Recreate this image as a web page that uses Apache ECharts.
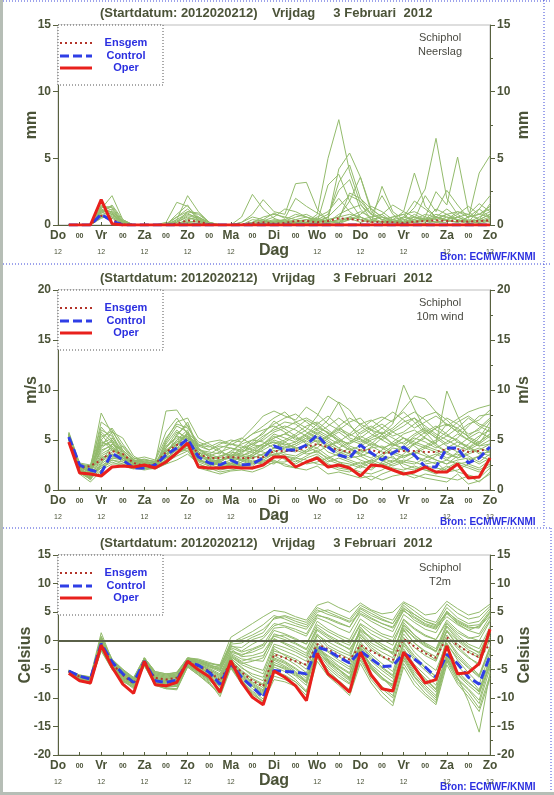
<!DOCTYPE html>
<html>
<head>
<meta charset="utf-8">
<title>Schiphol pluim 2012020212</title>
<script src="https://cdn.jsdelivr.net/npm/echarts@6/dist/echarts.min.js"></script>
<style>
  html, body { margin: 0; padding: 0; background: #fff; }
  #chart { width: 554px; height: 795px; }
</style>
</head>
<body>
<div id="chart"></div>
<script>
// forecast steps in hours after the start (2012020212), 6-hourly
const hours = [6, 12, 18, 24, 30, 36, 42, 48, 54, 60,
  66, 72, 78, 84, 90, 96, 102, 108, 114, 120,
  126, 132, 138, 144, 150, 156, 162, 168, 174, 180,
  186, 192, 198, 204, 210, 216, 222, 228, 234, 240];
// day names shown at 12 UTC, every 24 h
const dayNames = ['Do', 'Vr', 'Za', 'Zo', 'Ma', 'Di', 'Wo', 'Do', 'Vr', 'Za', 'Zo'];
const legendNames = ['Ensgem', 'Control', 'Oper'];

// ---- Neerslag (mm) ----
const precipOper = [0, 0, 0, 1.9, 0.1, 0, 0, 0, 0, 0,
  0, 0, 0, 0, 0, 0, 0, 0, 0, 0,
  0, 0, 0, 0, 0, 0, 0, 0, 0, 0,
  0, 0, 0, 0, 0, 0, 0, 0, 0, 0];
const precipControl = [0, 0, 0, 0.8, 0.3, 0, 0, 0, 0, 0,
  0, 0, 0, 0, 0, 0, 0, 0, 0, 0,
  0, 0, 0, 0, 0, 0, 0, 0, 0, 0,
  0, 0, 0, 0, 0, 0, 0, 0, 0, 0];
const precipEnsgem = [0, 0, 0, 0.7, 0.4, 0.05, 0, 0, 0, 0,
  0.1, 0.35, 0.25, 0.05, 0, 0, 0.05, 0.15, 0.2, 0.1,
  0.15, 0.3, 0.3, 0.2, 0.3, 0.5, 0.45, 0.35, 0.2, 0.25,
  0.2, 0.15, 0.25, 0.3, 0.35, 0.3, 0.3, 0.25, 0.3, 0.35];
const precipMembers = [
  [0, 0, 0, 1.2, 2.2, 0.4, 0, 0, 0, 0, 0.4, 2.2, 1.0, 0.2, 0, 0, 0.6, 2.3, 1.2, 0.5,
   0.2, 0, 0.2, 0.8, 5.0, 7.9, 4.0, 1.6, 0.4, 0.2, 0, 0.3, 0.8, 0.4, 0.6, 1.2, 0.6, 0.2, 0.4, 0.8],
  [0, 0, 0, 1.4, 1.3, 0.2, 0, 0, 0, 0.2, 1.7, 1.4, 0.6, 0.1, 0, 0, 0.2, 0.8, 1.9, 1.0,
   0.8, 3.1, 3.2, 1.2, 0.3, 0.2, 0.6, 0.4, 0.2, 0.8, 1.5, 1.0, 3.9, 1.4, 0.6, 0.4, 0.2, 0.6, 1.2, 0.6],
  [0, 0, 0, 1.0, 1.0, 0.3, 0, 0, 0, 0, 0.6, 1.2, 0.5, 0, 0, 0, 0, 0.2, 0.4, 0.9,
   0.5, 2.0, 1.4, 0.9, 0.4, 4.2, 5.4, 3.6, 1.2, 0.6, 0.2, 0.5, 1.3, 2.7, 6.5, 2.0, 0.8, 0.3, 0.2, 0.4],
  [0, 0, 0, 0.8, 0.9, 0.1, 0, 0, 0, 0, 0.2, 1.0, 0.9, 0.2, 0, 0, 0, 0, 0.2, 0.3,
   0.2, 0.4, 0.6, 0.2, 3.0, 3.8, 1.8, 0.6, 0.2, 2.9, 1.0, 0.4, 0.2, 0.6, 2.5, 1.5, 5.1, 1.0, 0.4, 0.2],
  [0, 0, 0, 1.5, 1.1, 0.2, 0, 0, 0, 0, 0, 0.5, 0.4, 0.1, 0, 0, 0, 0.4, 0.3, 0.1,
   0, 0.2, 0.4, 0.2, 0.6, 3.2, 4.5, 2.0, 0.8, 2.2, 0.8, 0.2, 0.4, 2.2, 1.0, 2.6, 1.5, 0.5, 3.9, 5.2],
  [0, 0, 0, 0.6, 0.7, 0.2, 0, 0, 0, 0, 0.8, 1.5, 0.3, 0, 0, 0, 0, 0, 0.1, 0.2,
   0.3, 0.6, 0.8, 0.4, 0.2, 0.4, 2.4, 2.0, 1.2, 0.6, 0.4, 0.2, 0.6, 0.4, 0.8, 0.6, 0.4, 0.2, 1.2, 2.2],
  [0, 0, 0, 1.1, 0.8, 0.1, 0, 0, 0, 0, 0.1, 0.3, 0.2, 0, 0, 0, 0, 0.1, 0.2, 0.3,
   0.4, 0.2, 0.1, 0.2, 0.4, 0.6, 1.8, 3.6, 1.0, 0.4, 0.2, 0.1, 0.3, 0.5, 0.2, 0.4, 1.0, 0.8, 0.4, 1.6],
  [0, 0, 0, 0.9, 1.2, 0.2, 0, 0, 0, 0, 0, 0.2, 0.1, 0, 0, 0, 0, 0, 0, 0.1,
   0.2, 0.3, 0.4, 0.3, 0.2, 0.8, 1.2, 1.5, 0.8, 0.4, 0.6, 0.8, 0.2, 0.1, 0.3, 0.6, 0.4, 0.2, 0.6, 1.0],
  [0, 0, 0, 1.3, 1.4, 0.3, 0, 0, 0, 0, 0.3, 0.8, 0.6, 0.1, 0, 0, 0, 0, 0, 0,
   0.1, 0.2, 0.2, 0.5, 0.3, 0.1, 0.4, 0.6, 0.2, 0.3, 0.2, 0.4, 0.6, 0.3, 0.5, 0.8, 0.3, 0.1, 0.2, 0.5],
  [0, 0, 0, 0.7, 0.6, 0.1, 0, 0, 0, 0, 0, 0.1, 0.1, 0, 0, 0, 0, 0, 0.2, 0.4,
   0.3, 0.1, 0.2, 0.4, 0.2, 0.3, 0.5, 0.2, 0.4, 0.6, 0.3, 0.2, 0.4, 0.2, 0.6, 0.3, 0.2, 0.4, 0.3, 0.6],
  [0, 0, 0, 1.0, 0.6, 0.2, 0, 0, 0, 0, 0.2, 0.6, 0.3, 0, 0, 0, 0, 0, 0.1, 0.1,
   0, 0.1, 0.2, 0.6, 1.0, 2.0, 1.0, 0.4, 0.6, 0.8, 0.2, 0.1, 0.2, 0.4, 0.2, 0.2, 0.6, 0.3, 0.1, 0.3],
  [0, 0, 0, 0.5, 0.8, 0.3, 0, 0, 0, 0, 0, 0.2, 0.3, 0, 0, 0, 0, 0, 0, 0,
   0.1, 0.1, 0.1, 0.2, 0.4, 0.6, 0.8, 0.6, 0.3, 0.2, 0.4, 1.0, 0.6, 0.3, 0.2, 0.4, 0.2, 0.6, 0.8, 1.2],
  [0, 0, 0, 1.2, 0.9, 0.2, 0, 0, 0, 0, 0.4, 0.9, 0.4, 0, 0, 0, 0.2, 0.6, 0.4, 0.2,
   0.4, 0.8, 0.6, 0.3, 0.6, 1.4, 2.2, 1.8, 0.8, 0.4, 0.6, 0.8, 1.0, 0.6, 0.4, 0.8, 1.0, 0.6, 0.8, 1.4],
  [0, 0, 0, 0.9, 1.5, 0.4, 0, 0, 0, 0, 0.2, 0.7, 0.5, 0.1, 0, 0, 0, 0.2, 0.6, 0.8,
   0.6, 0.4, 0.2, 0.1, 0.2, 0.4, 0.6, 1.0, 0.6, 0.2, 0.2, 0.6, 1.8, 1.2, 0.6, 0.4, 0.8, 1.4, 0.8, 0.6],
  [0, 0, 0, 1.1, 1.0, 0.2, 0, 0, 0, 0, 0, 0.4, 0.6, 0.2, 0, 0, 0, 0, 0.1, 0.2,
   0.2, 0.2, 0.4, 0.2, 0.1, 0.2, 0.4, 0.8, 1.4, 1.0, 0.4, 0.2, 0.2, 0.4, 1.2, 0.8, 0.4, 0.2, 0.4, 0.8],
  [0, 0, 0, 0.6, 0.5, 0.1, 0, 0, 0, 0.1, 0.6, 1.0, 0.8, 0.2, 0, 0, 0, 0.1, 0.3, 0.6,
   1.2, 1.0, 0.6, 0.4, 0.8, 2.6, 3.4, 1.2, 0.4, 0.2, 0.4, 0.6, 0.4, 0.8, 0.6, 0.4, 0.6, 0.8, 1.6, 1.0]
];

// ---- 10m wind (m/s) ----
const windOper = [4.8, 1.7, 1.6, 1.4, 2.3, 2.4, 2.3, 2.5, 2.2, 2.8,
  3.7, 4.7, 2.3, 2.2, 2.2, 2.3, 2.2, 2.2, 2.5, 3.3,
  3.3, 2.3, 2.8, 3.2, 2.3, 2.5, 2.2, 1.4, 2.5, 2.4,
  2.0, 1.6, 1.8, 2.3, 1.8, 1.8, 2.6, 1.2, 1.3, 3.2];
const windControl = [5.3, 2.5, 2.0, 1.7, 3.7, 3.0, 2.2, 2.2, 2.5, 3.5,
  4.2, 5.1, 3.3, 2.7, 2.5, 3.0, 2.5, 2.6, 3.2, 4.4,
  4.0, 4.0, 4.5, 5.5, 4.3, 3.5, 3.2, 4.5, 3.7, 3.0,
  3.7, 4.3, 3.5, 2.3, 2.3, 4.2, 4.2, 2.7, 3.2, 4.3];
const windEnsgem = [5.2, 2.2, 2.4, 3.0, 3.9, 3.6, 2.7, 2.4, 2.6, 3.8,
  4.5, 5.0, 3.6, 3.2, 3.2, 3.3, 3.2, 3.2, 3.3, 3.9,
  3.9, 3.9, 4.3, 4.6, 4.3, 4.0, 3.8, 4.0, 4.0, 3.7,
  3.8, 3.9, 3.9, 3.8, 3.8, 4.1, 4.1, 3.8, 3.9, 4.2];
const windMembers = [
  [5.6, 2.4, 2.2, 7.7, 5.6, 3.6, 2.9, 3.1, 2.8, 7.9, 8.0, 6.4, 4.5, 4.3, 4.8, 4.5, 5.1, 6.2, 7.4, 7.9,
   7.4, 7.0, 8.3, 7.6, 6.6, 6.0, 5.4, 6.1, 6.9, 7.3, 6.8, 8.1, 9.4, 9.1, 7.8, 6.4, 7.1, 7.8, 8.2, 8.5],
  [5.4, 2.1, 1.6, 5.3, 5.9, 4.3, 3.0, 2.7, 2.5, 3.3, 5.6, 6.5, 4.1, 3.6, 3.2, 3.9, 4.6, 5.0, 5.6, 6.9,
   6.1, 5.4, 6.0, 7.4, 9.4, 8.7, 6.6, 5.1, 4.6, 5.6, 6.6, 10.5, 8.1, 6.0, 5.2, 6.6, 6.2, 5.3, 4.8, 5.6],
  [5.2, 2.0, 1.0, 2.6, 4.6, 3.9, 2.5, 2.4, 2.3, 4.8, 6.4, 5.8, 3.8, 3.0, 2.8, 2.6, 3.0, 3.6, 4.3, 5.2,
   5.6, 6.2, 7.0, 6.4, 5.7, 4.8, 4.0, 3.6, 4.3, 5.2, 6.0, 6.8, 7.2, 5.8, 4.6, 9.9, 7.4, 5.2, 4.6, 6.3],
  [5.0, 1.6, 0.8, 1.9, 3.2, 3.0, 2.3, 2.2, 2.1, 2.6, 3.8, 4.2, 2.6, 2.2, 1.8, 2.0, 2.2, 2.1, 2.6, 3.0,
   2.4, 2.2, 2.8, 3.4, 2.6, 2.2, 2.0, 1.6, 1.0, 1.6, 2.0, 1.8, 1.5, 1.2, 1.0, 0.8, 1.6, 0.6, 0.9, 1.6],
  [5.8, 2.7, 2.5, 6.3, 5.0, 3.2, 3.1, 3.3, 3.0, 5.8, 7.2, 5.6, 4.0, 3.8, 3.6, 4.8, 5.2, 4.5, 4.4, 4.8,
   4.5, 4.8, 5.6, 6.2, 5.8, 5.0, 4.6, 5.8, 6.4, 5.6, 4.6, 4.2, 5.0, 5.8, 6.4, 5.6, 4.8, 4.2, 5.2, 6.8],
  [5.3, 2.3, 1.8, 3.6, 4.2, 3.5, 2.7, 2.6, 2.6, 3.9, 4.6, 5.0, 3.4, 3.2, 3.4, 3.6, 3.4, 3.2, 3.6, 4.2,
   4.0, 3.8, 4.6, 5.2, 4.6, 4.0, 3.6, 3.8, 4.2, 4.4, 3.8, 3.4, 3.6, 4.2, 3.8, 3.2, 3.6, 3.0, 3.4, 4.0],
  [5.1, 1.8, 1.2, 2.8, 3.6, 2.8, 2.2, 2.1, 2.4, 3.0, 4.2, 4.6, 2.9, 2.6, 2.5, 2.8, 2.4, 2.6, 3.0, 3.6,
   3.2, 2.8, 3.4, 4.0, 3.0, 2.6, 2.4, 2.8, 2.2, 2.6, 3.0, 2.6, 2.2, 2.0, 1.8, 2.4, 1.8, 1.5, 1.2, 2.2],
  [5.5, 2.5, 2.0, 4.8, 4.4, 3.4, 2.8, 2.9, 2.7, 4.4, 5.2, 5.4, 3.6, 2.8, 3.0, 3.2, 3.8, 4.4, 5.2, 6.2,
   6.8, 6.6, 5.8, 5.2, 4.4, 4.8, 5.6, 6.6, 7.0, 6.2, 5.4, 5.8, 6.6, 7.4, 7.8, 7.0, 6.0, 5.4, 6.2, 7.2],
  [5.2, 2.2, 1.4, 3.0, 3.8, 4.4, 3.2, 2.8, 2.4, 3.4, 4.4, 5.6, 4.4, 4.0, 4.4, 4.2, 4.0, 3.8, 3.4, 3.8,
   4.2, 4.6, 5.2, 4.8, 3.8, 3.4, 3.0, 2.6, 3.0, 3.6, 4.4, 5.2, 4.4, 3.6, 3.0, 2.6, 3.4, 4.2, 3.8, 3.4],
  [5.4, 2.0, 1.7, 4.2, 5.0, 3.8, 2.6, 2.3, 2.2, 3.6, 5.0, 6.0, 3.2, 2.4, 2.0, 2.2, 2.8, 3.4, 4.0, 4.6,
   5.0, 5.6, 6.4, 6.8, 6.0, 5.2, 4.4, 4.0, 3.6, 3.2, 2.8, 3.6, 4.6, 5.4, 6.2, 6.6, 5.8, 5.0, 4.4, 5.0],
  [5.0, 1.9, 1.3, 2.2, 2.8, 2.4, 2.1, 2.3, 2.5, 2.8, 3.4, 3.9, 2.4, 2.0, 2.2, 2.4, 2.6, 3.0, 2.8, 2.6,
   3.4, 3.0, 2.6, 2.8, 3.2, 2.8, 2.2, 1.8, 1.6, 2.0, 2.6, 3.0, 2.8, 2.4, 2.2, 2.0, 2.6, 2.2, 1.8, 2.4],
  [5.6, 2.6, 2.3, 5.8, 4.8, 3.2, 2.9, 3.0, 2.9, 5.2, 6.6, 6.2, 4.8, 4.4, 3.8, 3.4, 3.6, 4.8, 5.8, 6.6,
   7.2, 7.6, 6.8, 6.0, 5.4, 6.0, 6.8, 7.2, 6.0, 5.0, 4.4, 4.8, 5.6, 6.2, 5.4, 4.6, 5.2, 6.4, 7.4, 7.6],
  [5.3, 2.2, 1.9, 3.3, 3.4, 3.0, 2.4, 2.5, 2.6, 3.2, 4.0, 4.8, 3.0, 2.7, 2.6, 3.0, 3.2, 2.8, 2.6, 3.2,
   3.6, 3.4, 4.0, 4.6, 4.2, 3.6, 3.2, 3.4, 3.8, 3.0, 2.4, 2.8, 3.4, 3.0, 2.6, 3.0, 3.8, 3.4, 2.8, 3.6],
  [5.7, 2.3, 2.1, 6.8, 6.0, 4.0, 3.0, 2.8, 2.6, 4.2, 5.8, 5.2, 3.4, 3.6, 4.2, 4.6, 4.4, 4.0, 4.6, 5.6,
   5.2, 4.8, 5.4, 6.0, 7.0, 8.8, 8.0, 6.4, 5.6, 5.0, 5.8, 6.4, 7.2, 6.4, 5.6, 5.0, 4.4, 4.0, 4.6, 5.4],
  [5.1, 1.7, 1.1, 2.4, 3.0, 2.6, 2.2, 2.0, 2.2, 2.7, 3.6, 4.4, 2.2, 1.9, 1.6, 1.9, 2.0, 1.8, 2.2, 2.8,
   2.6, 2.2, 2.0, 2.4, 1.6, 1.8, 1.5, 1.2, 1.4, 1.0, 1.4, 1.6, 1.2, 1.6, 1.4, 1.2, 1.0, 1.4, 0.8, 1.8],
  [5.4, 2.4, 1.8, 4.0, 4.4, 3.2, 2.6, 2.4, 2.3, 3.8, 5.0, 5.4, 4.0, 3.4, 3.0, 3.4, 4.2, 5.0, 4.8, 4.2,
   4.8, 5.4, 4.6, 4.2, 5.2, 5.8, 5.0, 4.6, 5.2, 5.8, 5.2, 4.6, 5.2, 4.8, 4.2, 4.8, 5.6, 5.0, 4.4, 4.6],
  [5.2, 2.1, 1.5, 3.4, 4.0, 3.6, 2.5, 2.2, 2.4, 4.6, 6.0, 5.0, 3.8, 3.0, 2.4, 2.6, 3.4, 4.0, 3.8, 3.4,
   3.8, 4.4, 5.0, 5.6, 5.0, 4.2, 3.6, 3.0, 2.6, 3.4, 4.2, 4.0, 3.4, 2.8, 3.4, 4.2, 4.8, 4.4, 3.6, 3.8],
  [5.5, 2.3, 1.9, 4.4, 4.8, 3.0, 2.7, 2.7, 2.8, 4.0, 4.8, 5.2, 3.2, 3.0, 3.4, 3.8, 3.6, 3.4, 4.2, 5.0,
   4.6, 4.2, 4.4, 5.0, 4.4, 5.0, 4.2, 3.6, 3.2, 4.0, 4.8, 5.6, 6.0, 5.2, 4.4, 3.8, 3.2, 3.6, 4.0, 4.6],
  [5.0, 1.8, 1.2, 2.0, 2.6, 2.6, 2.3, 2.4, 2.2, 3.0, 3.8, 4.0, 2.8, 2.4, 2.8, 2.6, 2.4, 2.4, 3.2, 4.0,
   3.0, 2.6, 3.2, 3.6, 2.8, 3.2, 2.8, 2.4, 2.0, 2.8, 3.4, 2.2, 2.0, 2.6, 2.8, 1.8, 2.0, 2.6, 2.2, 3.0],
  [5.6, 2.5, 2.3, 5.0, 6.2, 4.6, 3.2, 3.0, 2.8, 3.6, 4.4, 5.8, 4.6, 4.0, 4.6, 5.0, 4.8, 5.6, 6.4, 7.2,
   7.8, 6.8, 6.2, 5.6, 6.4, 7.2, 6.4, 5.6, 6.2, 7.0, 7.8, 7.0, 6.2, 6.8, 7.4, 6.6, 5.8, 6.6, 7.0, 8.0],
  [5.3, 2.0, 1.4, 6.0, 5.4, 3.4, 2.6, 2.6, 2.5, 4.2, 5.4, 6.8, 4.2, 3.4, 3.0, 3.6, 4.8, 5.6, 6.0, 6.4,
   5.8, 5.0, 5.6, 6.6, 7.4, 6.4, 5.2, 4.8, 5.4, 6.2, 7.0, 7.8, 6.8, 5.6, 6.2, 7.2, 6.6, 5.6, 6.0, 7.0],
  [5.5, 2.6, 2.4, 4.6, 5.2, 4.0, 2.9, 2.5, 2.4, 5.0, 6.8, 7.2, 5.2, 4.6, 4.0, 3.2, 3.4, 3.8, 4.6, 5.4,
   4.8, 4.2, 3.8, 4.6, 5.4, 6.2, 5.6, 5.0, 4.4, 3.8, 3.6, 4.4, 5.4, 6.0, 5.2, 4.4, 3.8, 4.6, 5.4, 6.0],
  [5.1, 2.0, 1.6, 2.4, 3.2, 3.2, 2.4, 2.3, 2.6, 3.2, 3.6, 4.2, 3.0, 2.8, 3.0, 3.2, 3.0, 2.6, 2.8, 3.4,
   3.4, 3.2, 3.8, 4.2, 3.4, 2.8, 2.6, 2.2, 2.8, 3.4, 3.2, 2.8, 2.6, 3.2, 3.6, 3.0, 2.6, 2.8, 3.4, 3.0],
  [5.4, 2.4, 2.0, 3.8, 4.6, 4.0, 3.0, 2.6, 2.4, 3.4, 4.6, 5.6, 3.8, 3.4, 3.8, 4.2, 3.8, 4.2, 4.6, 5.2,
   5.6, 5.2, 4.8, 5.4, 4.8, 4.2, 4.8, 5.4, 4.8, 4.2, 4.6, 5.2, 4.6, 4.2, 4.8, 5.4, 5.0, 4.2, 4.8, 5.6],
  [5.6, 2.2, 1.8, 5.6, 4.2, 3.0, 2.5, 2.4, 2.3, 4.2, 5.4, 5.0, 3.0, 2.6, 2.8, 3.4, 3.0, 3.6, 4.4, 4.8,
   4.2, 4.6, 5.2, 5.8, 5.2, 4.6, 4.0, 4.4, 5.0, 5.4, 4.6, 4.0, 4.6, 5.2, 4.6, 3.8, 4.4, 5.2, 5.8, 5.2],
  [5.2, 1.9, 1.3, 3.2, 3.6, 3.4, 2.6, 2.5, 2.2, 3.0, 3.8, 4.6, 3.4, 3.0, 2.6, 2.4, 2.8, 3.2, 3.6, 4.2,
   4.4, 4.0, 3.6, 3.8, 4.4, 3.8, 3.4, 4.0, 4.6, 4.2, 3.6, 3.2, 3.8, 4.4, 4.0, 3.6, 3.2, 3.8, 4.2, 3.8],
  [5.7, 2.5, 2.2, 4.4, 5.8, 5.2, 3.4, 2.8, 2.7, 3.4, 4.2, 5.2, 4.4, 4.8, 5.0, 4.6, 4.2, 4.6, 5.4, 6.0,
   6.4, 6.0, 5.4, 4.8, 5.4, 6.4, 7.2, 6.6, 6.0, 5.6, 6.2, 7.2, 7.8, 7.0, 6.0, 5.4, 6.2, 7.2, 6.4, 5.8],
  [5.3, 2.3, 1.7, 2.2, 3.0, 2.8, 2.4, 2.2, 2.3, 2.6, 3.0, 3.6, 2.6, 2.2, 2.4, 2.2, 2.4, 2.8, 3.0, 2.8,
   2.8, 3.2, 3.0, 2.6, 2.4, 2.0, 1.8, 2.4, 3.0, 2.6, 2.2, 2.0, 2.4, 2.0, 1.6, 2.2, 2.8, 2.4, 2.0, 2.6],
  [5.4, 2.2, 1.9, 5.0, 4.0, 3.4, 2.8, 2.6, 2.5, 3.8, 4.8, 5.6, 4.2, 3.2, 2.8, 3.4, 4.0, 4.6, 5.0, 5.8,
   6.2, 6.8, 7.2, 6.6, 5.6, 5.0, 4.6, 5.2, 6.0, 6.6, 5.8, 5.2, 4.8, 4.4, 5.0, 5.8, 6.8, 7.4, 6.6, 6.2],
  [5.0, 1.7, 1.1, 2.6, 3.4, 3.2, 2.6, 2.4, 2.4, 3.2, 4.0, 4.4, 3.0, 2.6, 2.2, 2.6, 3.0, 3.4, 3.2, 3.6,
   3.8, 4.2, 4.4, 3.8, 3.2, 3.6, 4.2, 3.4, 2.8, 2.4, 2.8, 3.4, 3.8, 3.4, 3.0, 2.6, 3.0, 3.2, 2.6, 3.2]
];

// ---- T2m (Celsius) ----
const tempOper = [-5.7, -7.0, -7.4, -0.8, -4.6, -7.6, -9.2, -3.6, -7.7, -7.9,
  -7.3, -3.6, -5.1, -6.3, -9.0, -3.5, -7.3, -9.9, -11.2, -5.3,
  -6.4, -7.9, -10.5, -2.2, -5.8, -7.3, -9.0, -2.0, -6.0, -8.4,
  -8.8, -2.0, -4.6, -7.4, -6.8, -0.9, -5.8, -5.6, -4.0, 2.0];
const tempControl = [-5.3, -6.2, -6.7, -0.5, -3.7, -5.8, -7.3, -3.6, -7.0, -7.3,
  -6.9, -3.7, -4.3, -5.5, -7.6, -4.0, -6.4, -8.1, -9.9, -5.2,
  -5.4, -5.5, -5.8, -1.1, -1.7, -2.9, -3.9, -1.8, -3.2, -4.5,
  -4.4, -2.2, -3.2, -4.6, -6.4, -2.4, -4.0, -6.4, -7.6, -2.6];
const tempEnsgem = [-5.3, -6.3, -6.6, -0.8, -4.0, -6.0, -7.5, -4.0, -6.5, -6.8,
  -6.5, -3.8, -4.5, -5.3, -7.0, -3.8, -5.5, -7.0, -8.0, -2.4,
  -3.0, -3.6, -4.2, -0.6, -1.5, -2.6, -3.3, -0.8, -1.8, -2.8,
  -3.4, 0.3, -1.0, -2.2, -3.0, 0.6, -0.8, -2.0, -2.9, -0.6];
const tempMembers = [
  [-5.2, -6.0, -6.3, 1.4, -3.4, -5.0, -6.6, -3.2, -5.6, -6.0, -5.5, -3.0, -3.4, -4.0, -4.2, 0.6, 1.8, 3.0, 4.2, 5.3,
   5.0, 4.2, 3.6, 6.2, 6.8, 5.8, 5.0, 6.6, 5.4, 4.7, 5.0, 6.8, 5.8, 4.5, 4.8, 6.9, 5.6, 4.5, 5.0, 6.4],
  [-5.3, -6.2, -6.6, 0.2, -3.8, -5.6, -7.0, -3.4, -6.0, -6.4, -6.0, -3.3, -3.8, -4.6, -5.0, -0.8, -1.8, -0.6, 0.4, 2.6,
   3.2, 2.6, 2.0, 4.6, 3.8, 3.0, 2.4, 5.6, 4.4, 3.6, 3.0, 6.2, 4.6, 3.4, 2.8, 5.8, 4.0, 3.0, 3.4, 5.6],
  [-5.6, -6.8, -7.4, -1.6, -4.8, -7.0, -8.0, -4.2, -7.6, -8.2, -8.4, -4.4, -5.8, -7.2, -9.8, -4.8, -7.6, -9.2, -10.8, -6.8,
   -7.2, -8.0, -10.2, -3.6, -6.2, -7.8, -9.6, -4.0, -7.4, -9.8, -11.4, -4.6, -7.8, -9.6, -11.2, -4.2, -7.6, -9.8, -12.4, -6.6],
  [-5.5, -6.6, -7.0, -1.0, -4.4, -6.6, -7.6, -3.8, -7.0, -7.6, -7.4, -3.9, -5.0, -6.2, -7.8, -3.8, -6.4, -8.0, -9.4, -4.6,
   -5.4, -6.8, -8.8, -2.8, -4.8, -6.4, -7.6, -2.4, -5.0, -6.8, -7.6, -1.8, -4.6, -6.6, -8.4, -2.2, -6.4, -10.6, -16.0, -5.6],
  [-5.4, -6.4, -6.8, -0.4, -3.8, -6.0, -7.2, -3.4, -6.6, -7.0, -6.6, -3.6, -4.2, -5.2, -6.4, -2.6, -3.8, -4.6, -5.2, -0.6,
   -1.2, -2.0, -3.0, 1.2, -0.8, -1.8, -2.6, 1.6, -0.4, -1.4, -2.0, 2.6, 0.4, -1.0, -1.8, 2.4, 0.2, -1.2, -2.0, 1.0],
  [-5.3, -6.3, -6.7, 0.0, -3.6, -5.8, -7.0, -3.4, -6.4, -6.8, -6.4, -3.4, -4.0, -4.8, -5.8, -1.8, -2.4, -2.0, -1.2, 1.8,
   1.2, 0.4, -0.6, 3.4, 2.0, 1.0, 0.2, 3.8, 2.4, 1.2, 0.6, 4.6, 3.2, 2.0, 1.4, 4.8, 3.0, 1.8, 1.2, 4.2],
  [-5.6, -6.6, -7.2, -1.2, -4.4, -6.4, -7.8, -4.0, -7.2, -7.8, -7.6, -4.0, -5.2, -6.6, -8.4, -4.2, -6.8, -8.4, -9.6, -3.8,
   -4.6, -5.8, -7.4, -1.6, -4.0, -5.6, -7.0, -1.2, -4.8, -6.6, -8.0, -2.6, -5.4, -7.2, -9.0, -3.2, -6.0, -7.8, -9.4, -3.8],
  [-5.4, -6.5, -6.9, -0.8, -4.2, -6.2, -7.4, -3.6, -6.8, -7.2, -7.0, -3.8, -4.6, -5.6, -6.8, -3.0, -4.8, -5.8, -6.4, -1.8,
   -2.4, -3.2, -4.4, 0.2, -1.8, -2.8, -3.8, 0.6, -1.6, -2.8, -3.8, 1.2, -1.2, -2.6, -3.6, 1.0, -1.4, -3.0, -4.0, 0.2],
  [-5.2, -6.1, -6.5, 0.6, -3.6, -5.4, -6.8, -3.2, -5.8, -6.2, -5.8, -3.2, -3.6, -4.4, -4.6, -0.2, 0.2, 1.0, 2.0, 3.8,
   4.2, 3.4, 2.8, 5.4, 4.6, 4.0, 3.2, 4.8, 3.8, 3.0, 2.2, 5.2, 4.0, 2.8, 2.2, 4.2, 2.8, 1.8, 2.6, 4.8],
  [-5.5, -6.7, -7.3, -1.4, -4.6, -6.8, -7.8, -4.0, -7.4, -8.0, -8.0, -4.2, -5.4, -6.8, -8.8, -4.4, -7.0, -8.8, -10.2, -5.6,
   -6.2, -7.2, -9.0, -2.4, -5.6, -7.0, -8.6, -3.0, -6.4, -8.4, -10.0, -3.4, -6.4, -8.6, -10.4, -2.8, -6.8, -8.6, -11.0, -4.8],
  [-5.4, -6.4, -6.8, -0.6, -4.0, -6.0, -7.2, -3.6, -6.6, -7.0, -6.8, -3.6, -4.4, -5.4, -6.6, -2.8, -4.2, -5.0, -5.8, -1.0,
   -1.8, -2.6, -3.6, 0.8, -1.2, -2.2, -3.2, 2.4, 0.2, -1.0, -2.4, 3.2, 1.0, -0.4, -1.4, 3.0, 1.0, -0.6, -1.4, 2.4],
  [-5.6, -6.8, -7.2, -1.0, -4.6, -6.6, -7.8, -4.2, -7.4, -7.8, -7.4, -4.0, -5.4, -6.6, -8.0, -3.6, -5.6, -7.2, -8.2, -2.6,
   -3.6, -4.8, -6.2, -0.8, -3.2, -4.6, -5.8, -0.6, -3.2, -4.8, -6.2, -0.4, -3.0, -4.8, -6.2, 0.2, -2.6, -4.6, -6.2, -1.2],
  [-5.3, -6.2, -6.6, 0.4, -3.4, -5.4, -6.8, -3.2, -6.0, -6.4, -6.2, -3.4, -3.8, -4.6, -5.4, -1.4, -2.8, -2.6, -2.0, 0.8,
   0.2, -0.6, -1.6, 2.4, 1.0, 0.0, -0.8, 2.8, 1.2, 0.2, -0.8, 3.8, 2.2, 1.0, 0.2, 3.6, 1.8, 0.6, 0.0, 3.4],
  [-5.5, -6.6, -7.0, -0.8, -4.2, -6.4, -7.6, -3.8, -7.0, -7.4, -7.2, -3.8, -4.8, -6.0, -7.4, -3.4, -5.2, -6.6, -7.6, -2.2,
   -3.0, -4.2, -5.6, -1.2, -2.6, -3.8, -5.0, -0.2, -2.4, -4.0, -5.4, 0.6, -2.0, -3.8, -5.2, -0.4, -3.4, -5.6, -7.6, -2.2],
  [-5.4, -6.3, -6.7, -0.2, -3.8, -5.8, -7.0, -3.4, -6.4, -6.8, -6.4, -3.5, -4.2, -5.0, -6.0, -2.2, -3.2, -3.4, -3.6, 0.2,
   -0.4, -1.2, -2.2, 1.8, 0.4, -0.6, -1.4, 1.2, -0.8, -2.0, -3.0, 1.8, -0.4, -1.8, -2.8, 1.6, -0.6, -2.0, -3.0, 0.6],
  [-5.6, -6.9, -7.4, -1.8, -5.0, -7.2, -8.0, -4.4, -7.8, -8.4, -8.6, -4.6, -6.0, -7.6, -9.4, -4.6, -7.2, -9.0, -10.6, -6.2,
   -6.8, -7.6, -9.6, -3.0, -5.8, -7.4, -9.2, -3.4, -6.8, -9.0, -10.8, -4.0, -7.0, -9.2, -10.8, -3.6, -7.2, -9.2, -11.8, -6.0],
  [-5.3, -6.1, -6.4, 0.8, -3.2, -5.2, -6.6, -3.0, -5.8, -6.2, -6.0, -3.2, -3.6, -4.2, -4.8, -0.4, 0.6, 1.6, 2.8, 4.4,
   3.8, 3.0, 2.4, 5.0, 5.4, 4.6, 3.8, 6.2, 5.2, 4.2, 3.6, 6.6, 5.2, 3.8, 3.2, 6.4, 4.8, 3.8, 4.2, 6.0],
  [-5.4, -6.5, -7.0, -0.6, -4.2, -6.2, -7.4, -3.8, -6.8, -7.2, -7.0, -3.8, -4.6, -5.8, -7.0, -3.2, -4.6, -6.2, -7.0, -1.4,
   -2.6, -3.6, -5.0, -0.4, -2.0, -3.4, -4.6, 1.0, -1.2, -2.6, -4.0, 2.0, -0.4, -2.0, -3.4, 1.8, -1.0, -2.8, -4.4, 1.4],
  [-5.5, -6.6, -7.1, -1.2, -4.4, -6.4, -7.6, -3.8, -7.2, -7.6, -7.6, -4.0, -5.0, -6.4, -8.0, -3.8, -6.0, -7.6, -8.8, -3.2,
   -4.0, -5.4, -7.0, -1.8, -3.8, -5.2, -6.8, -1.6, -4.2, -5.8, -7.2, -1.4, -4.2, -6.0, -7.8, -1.2, -4.4, -6.4, -8.6, -3.0],
  [-5.2, -6.2, -6.6, 0.2, -3.6, -5.6, -6.8, -3.2, -6.2, -6.6, -6.2, -3.2, -3.8, -4.4, -5.2, -1.2, -2.0, -1.4, -0.6, 2.2,
   2.4, 1.6, 0.8, 4.0, 3.2, 2.2, 1.4, 4.6, 3.4, 2.4, 1.6, 5.4, 3.6, 2.6, 2.0, 5.2, 3.4, 2.4, 2.2, 5.0],
  [-5.4, -6.2, -6.6, -0.2, -3.6, -5.4, -6.8, -3.0, -5.4, -5.8, -5.6, -3.2, -3.4, -4.2, -5.0, -2.0, -2.6, -1.6, -0.8, 0.8,
   1.0, 0.2, -0.6, 2.8, 1.6, 0.6, -0.4, 3.0, 1.8, 0.8, 0.0, 3.6, 2.0, 0.8, 0.2, 3.2, 1.4, 0.4, 0.8, 3.6],
  [-5.6, -6.9, -7.6, -1.4, -4.8, -6.8, -8.2, -4.2, -7.6, -8.0, -7.8, -4.2, -5.6, -7.0, -8.6, -4.4, -6.6, -8.0, -9.2, -4.2,
   -5.0, -6.2, -7.8, -2.0, -4.4, -6.0, -7.4, -1.8, -4.6, -6.4, -7.8, -2.2, -5.0, -6.8, -8.6, -2.6, -5.4, -7.2, -9.0, -4.4],
  [-5.3, -6.4, -6.9, -0.6, -3.8, -6.2, -7.6, -3.6, -6.8, -7.4, -7.2, -3.6, -4.4, -5.8, -7.2, -2.8, -4.0, -3.6, -3.0, 1.2,
   0.6, -0.4, -1.4, 2.0, 0.8, -0.4, -1.6, 1.8, 0.4, -1.0, -2.2, 2.8, 1.0, -0.6, -1.8, 2.6, 0.6, -1.0, -2.2, 2.0],
  [-5.5, -6.5, -6.8, -1.0, -4.2, -6.2, -7.4, -3.8, -6.6, -7.0, -6.8, -3.8, -4.6, -5.6, -7.0, -3.4, -5.4, -6.8, -7.8, -3.0,
   -3.8, -5.0, -6.6, -1.4, -3.6, -5.0, -6.4, -1.0, -3.6, -5.2, -6.6, -0.8, -3.4, -5.2, -6.8, -0.6, -3.0, -4.8, -6.4, -1.6],
  [-5.2, -6.0, -6.4, 0.4, -3.2, -5.0, -6.4, -3.0, -5.4, -5.8, -5.6, -3.0, -3.2, -3.8, -4.4, -1.0, -1.2, 0.2, 0.8, 3.0,
   2.6, 2.0, 1.2, 4.4, 4.0, 3.2, 2.4, 5.2, 4.0, 3.0, 2.4, 5.6, 4.6, 3.4, 2.6, 5.0, 3.6, 2.6, 2.8, 5.2],
  [-5.6, -6.7, -7.2, -1.2, -4.6, -6.8, -8.2, -4.2, -7.4, -8.0, -8.0, -4.4, -5.6, -6.8, -8.8, -4.0, -6.2, -7.8, -9.0, -3.4,
   -4.4, -5.6, -7.2, -1.0, -3.4, -5.0, -6.6, -1.4, -4.4, -6.4, -8.4, -2.8, -5.8, -7.8, -9.6, -3.0, -5.8, -7.4, -8.8, -3.4],
  [-5.4, -6.3, -6.7, -0.4, -3.8, -5.8, -7.2, -3.4, -6.2, -6.6, -6.4, -3.4, -4.0, -5.0, -6.2, -2.4, -3.6, -3.0, -2.6, 0.4,
   -0.6, -1.6, -2.6, 1.0, -0.2, -1.2, -2.2, 2.0, 0.6, -0.6, -1.6, 2.2, 0.6, -0.8, -2.0, 1.8, 0.0, -1.6, -2.6, 1.4],
  [-5.5, -6.8, -7.4, -1.6, -5.0, -7.0, -8.4, -4.4, -7.8, -8.4, -8.4, -4.6, -6.0, -7.4, -9.2, -4.6, -7.4, -9.4, -10.6, -5.4,
   -6.0, -7.2, -9.0, -2.6, -5.2, -7.0, -8.8, -2.6, -5.8, -8.0, -9.6, -3.0, -6.2, -8.2, -10.0, -3.4, -6.6, -8.4, -10.4, -4.0],
  [-5.3, -6.1, -6.5, 0.6, -3.4, -5.2, -6.6, -3.0, -5.6, -6.0, -5.8, -3.0, -3.4, -4.0, -4.4, -0.6, -0.4, 0.6, 1.4, 4.0,
   4.4, 3.8, 3.2, 5.8, 5.0, 4.2, 3.4, 5.8, 4.8, 3.8, 3.0, 5.8, 4.2, 3.0, 2.4, 4.8, 3.2, 2.2, 2.4, 4.4],
  [-5.4, -6.6, -7.0, -0.8, -4.4, -6.4, -7.8, -4.0, -7.0, -7.4, -7.2, -3.8, -4.8, -6.2, -7.8, -3.6, -5.8, -7.4, -8.6, -4.2,
   -4.8, -6.0, -7.2, -1.4, -2.8, -4.4, -5.6, -0.6, -2.8, -4.6, -6.0, -0.2, -2.6, -4.6, -6.4, 0.4, -2.2, -4.2, -6.0, -1.0]
];

const FONT = "'Liberation Sans', Arial, Helvetica, sans-serif";
const TXT = '#4b5338';     // olive grey text
const AX = '#58613f';      // axis lines
const GREEN = '#93bb6c';   // ensemble members
const RED = '#e8201c';
const BLUE = '#2f3ee6';
const DOTRED = '#b3342a';
const LBLUE = '#2b2fe0';
const TITLE = '(Startdatum: 2012020212)    Vrijdag     3 Februari  2012';

const panels = [
  { y0: 0, min: 0, max: 15, unit: 'mm', gapL: 18, gapR: 26, what: 'Neerslag',
    members: precipMembers, ensgem: precipEnsgem, control: precipControl, oper: precipOper },
  { y0: 265, min: 0, max: 20, unit: 'm/s', gapL: 18, gapR: 26, what: '10m wind',
    members: windMembers, ensgem: windEnsgem, control: windControl, oper: windOper },
  { y0: 530, min: -20, max: 15, unit: 'Celsius', gapL: 24, gapR: 27, what: 'T2m', zero: true,
    members: tempMembers, ensgem: tempEnsgem, control: tempControl, oper: tempOper }
];

const pairs = (vals) => vals.map((v, k) => [hours[k], v]);

const grids = [], xAxes = [], yAxes = [], series = [], graphics = [];

panels.forEach((p, k) => {
  grids.push({
    left: 58, top: p.y0 + 25, width: 432, height: 200,
    show: true, borderColor: '#bdbdbd', borderWidth: 1,
    containLabel: false, outerBoundsMode: 'none'
  });

  xAxes.push({
    type: 'value', gridIndex: k, min: 0, max: 240, interval: 12,
    axisLine: { onZero: false, lineStyle: { color: AX, width: 1 } },
    axisTick: { show: true, inside: true, length: 3, lineStyle: { color: AX } },
    splitLine: { show: false },
    axisLabel: {
      margin: 4,
      formatter: (v) => {
        const n = Math.round(v / 12);
        return n % 2 === 0 ? '{d|' + dayNames[n / 2] + '}\n{h|12}' : '{z|00}';
      },
      rich: {
        d: { fontSize: 12, fontWeight: 'bold', fontFamily: FONT, color: TXT, lineHeight: 14 },
        h: { fontSize: 7, fontFamily: FONT, color: TXT, lineHeight: 18 },
        z: { fontSize: 7, fontWeight: 'bold', fontFamily: FONT, color: TXT, lineHeight: 14 }
      }
    },
    name: 'Dag', nameLocation: 'middle', nameGap: 18, nameMoveOverlap: false,
    nameTextStyle: { fontSize: 16, fontWeight: 'bold', fontFamily: FONT, color: TXT }
  });

  ['left', 'right'].forEach((side) => {
    yAxes.push({
      type: 'value', gridIndex: k, position: side, min: p.min, max: p.max, interval: 5,
      axisLine: { show: true, onZero: false, lineStyle: { color: AX, width: 1 } },
      axisTick: { show: true, length: 5, lineStyle: { color: AX } },
      minorTick: { show: side === 'right', splitNumber: 2, length: 3, lineStyle: { color: AX } },
      splitLine: { show: false },
      axisLabel: { margin: 7, fontSize: 12, fontWeight: 'bold', fontFamily: FONT, color: TXT },
      name: p.unit, nameLocation: 'middle', nameRotate: 90, nameMoveOverlap: false,
      nameGap: side === 'left' ? p.gapL : p.gapR,
      nameTextStyle: { fontSize: 16, fontWeight: 'bold', fontFamily: FONT, color: TXT }
    });
  });

  const common = { type: 'line', xAxisIndex: k, yAxisIndex: k * 2, symbol: 'none',
    silent: true, animation: false };

  p.members.forEach((m) => {
    series.push(Object.assign({}, common, {
      data: pairs(m), z: 2, lineStyle: { color: GREEN, width: 1 }
    }));
  });

  const ens = Object.assign({}, common, {
    name: 'Ensgem', data: pairs(p.ensgem), z: 3,
    lineStyle: { color: DOTRED, width: 2, type: [2, 3] }
  });
  if (p.zero) {
    ens.markLine = {
      silent: true, symbol: 'none', label: { show: false }, animation: false,
      lineStyle: { color: '#5a6048', width: 2, type: 'solid' },
      data: [{ yAxis: 0 }]
    };
  }
  series.push(ens);
  series.push(Object.assign({}, common, {
    name: 'Control', data: pairs(p.control), z: 4,
    lineStyle: { color: BLUE, width: 3, type: [9, 4] }
  }));
  series.push(Object.assign({}, common, {
    name: 'Oper', data: pairs(p.oper), z: 5,
    lineStyle: { color: RED, width: 3 }
  }));

  // header, station text, legend box, source
  const y0 = p.y0;
  graphics.push({ type: 'text', x: 100, y: y0 + 13, style: {
    text: TITLE, fill: TXT, font: 'bold 13px ' + FONT, align: 'left', verticalAlign: 'middle' } });
  graphics.push({ type: 'text', x: 440, y: y0 + 38, style: {
    text: 'Schiphol', fill: '#4a4a42', font: '11px ' + FONT, align: 'center', verticalAlign: 'middle' } });
  graphics.push({ type: 'text', x: 440, y: y0 + 52, style: {
    text: p.what, fill: '#4a4a42', font: '11px ' + FONT, align: 'center', verticalAlign: 'middle' } });
  graphics.push({ type: 'rect', shape: { x: 58, y: y0 + 25, width: 105, height: 60 },
    style: { fill: '#fff', stroke: '#555', lineWidth: 1, lineDash: [1, 2] }, z: 10 });
  const legendStyles = [
    { stroke: DOTRED, lineWidth: 2, lineDash: [2, 3] },
    { stroke: BLUE, lineWidth: 3, lineDash: [9, 4] },
    { stroke: RED, lineWidth: 3 }
  ];
  [43, 56, 68].forEach((dy, j) => {
    graphics.push({ type: 'line', shape: { x1: 60, y1: y0 + dy, x2: 92, y2: y0 + dy },
      style: legendStyles[j], z: 11 });
    graphics.push({ type: 'text', x: 126, y: y0 + dy, z: 11, style: {
      text: legendNames[j], fill: LBLUE, font: 'bold 11px ' + FONT, align: 'center', verticalAlign: 'middle' } });
  });
  graphics.push({ type: 'text', x: 440, y: y0 + 257, style: {
    text: 'Bron: ECMWF/KNMI', fill: LBLUE, font: 'bold 10px ' + FONT, align: 'left', verticalAlign: 'middle' } });
});

// frame lines around the three panels
const sep = { stroke: '#3a46d8', lineWidth: 1, lineDash: [1, 2] };
[1, 264, 528].forEach((y) => {
  graphics.push({ type: 'line', shape: { x1: 3, y1: y, x2: 551, y2: y }, style: sep });
});
graphics.push({ type: 'line', shape: { x1: 544, y1: 0, x2: 544, y2: 528 }, style: sep });
graphics.push({ type: 'line', shape: { x1: 551, y1: 528, x2: 551, y2: 795 }, style: sep });
graphics.push({ type: 'rect', shape: { x: 0, y: 0, width: 3, height: 795 }, style: { fill: '#b6beb6' } });
graphics.push({ type: 'rect', shape: { x: 0, y: 792, width: 554, height: 3 }, style: { fill: '#b6beb6' } });

const chart = echarts.init(document.getElementById('chart'));
chart.setOption({
  animation: false,
  backgroundColor: '#fff',
  grid: grids,
  xAxis: xAxes,
  yAxis: yAxes,
  series: series,
  graphic: graphics
});
</script>
</body>
</html>
